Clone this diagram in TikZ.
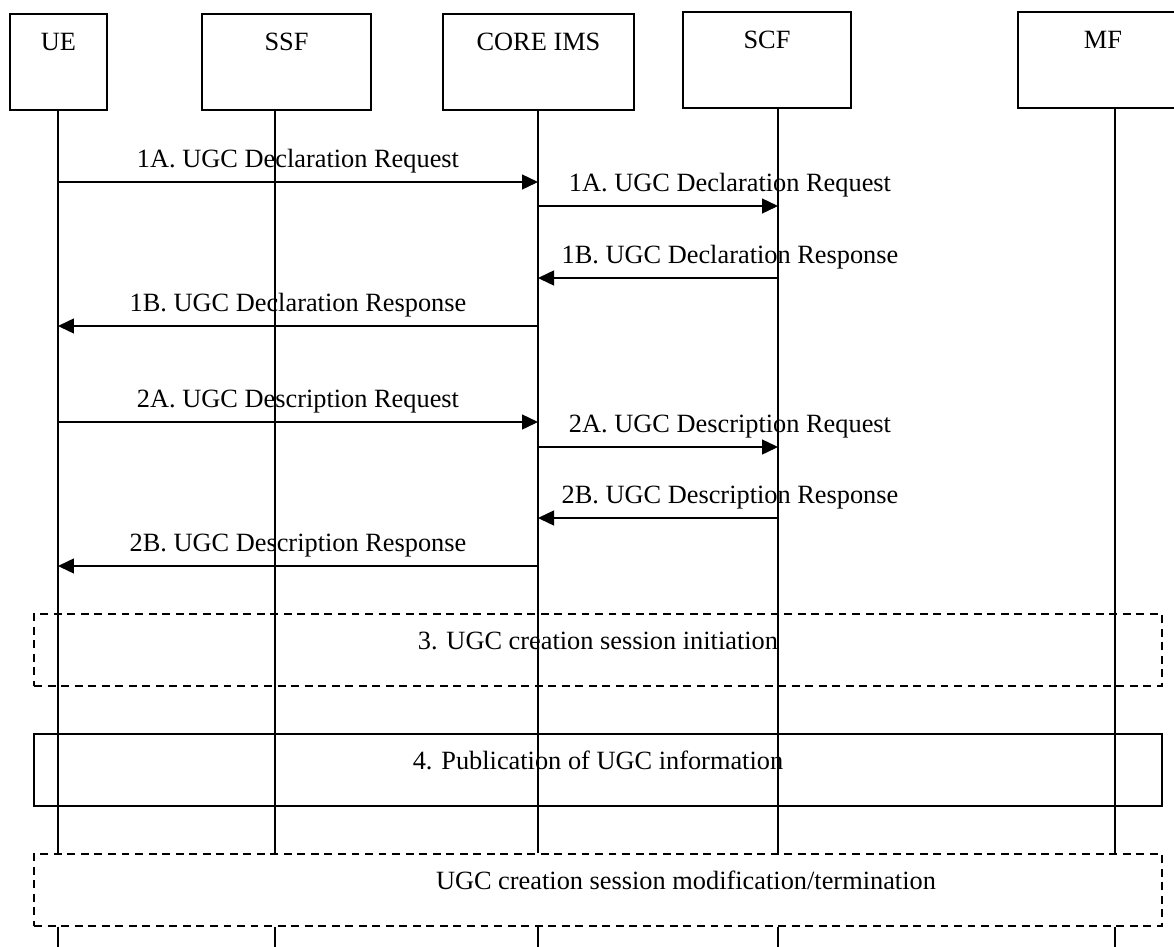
\documentclass[tikz,border=0pt]{standalone}
\usepackage{fontspec}
\setmainfont{Liberation Serif}
\usetikzlibrary{arrows.meta, positioning}

\begin{document}
\begin{tikzpicture}[x=0.02cm, y=-0.02cm, line width=0.8pt, font=\fontsize{15}{18}\selectfont]
\tikzset{entity/.style={draw, rectangle, inner sep=0pt, minimum height=1.92cm, text height=0.72cm, text depth=1.2cm},
  frame/.style={draw, rectangle, inner sep=0pt, minimum width=22.56cm, minimum height=1.44cm, text height=0.7cm, text depth=0.74cm},
  dashedframe/.style={frame, dash pattern=on 4.5pt off 3.2pt},
  msg/.style={-{Triangle[length=0.32cm, width=0.3cm]}},
  lbl/.style={anchor=base, yshift=0.3cm, inner sep=0pt}}
\useasboundingbox (0,0) rectangle (1174,947);
% entities
\node[entity, minimum width=1.94cm] (UE) at (58.5,62) {UE};
\node[entity, minimum width=3.38cm] (SSF) at (286.5,62) {SSF};
\node[entity, minimum width=3.82cm] (CORE) at (538.5,62) {CORE IMS};
\node[entity, minimum width=3.36cm] (SCF) at (767,60) {SCF};
\node[entity, minimum width=3.4cm] (MF) at (1103,60) {MF};
% procedures
\node[dashedframe] (init) at (598,650) {3. UGC creation session initiation};
\node[frame] (pub) at (598,770) {4. Publication of UGC information};
\node[dashedframe] (modif) at (598,890) {\hspace*{3.52cm}UGC creation session modification/termination};
% lifelines
\foreach \n/\x in {UE/58, SSF/275, CORE/538, SCF/778, MF/1115} {
  \coordinate (\n L) at (\x,947);
  \draw (\n.south -| \n L) -- (modif.north -| \n L);
  \draw (modif.south -| \n L) -- (\n L);
}
% messages
\draw[msg] (UEL |- 0,182) -- node[lbl]{1A. UGC Declaration Request} (COREL |- 0,182);
\draw[msg] (COREL |- 0,206) -- node[lbl, pos=0.8]{1A. UGC Declaration Request} (SCFL |- 0,206);
\draw[msg] (SCFL |- 0,278) -- node[lbl, pos=0.2]{1B. UGC Declaration Response} (COREL |- 0,278);
\draw[msg] (COREL |- 0,326) -- node[lbl]{1B. UGC Declaration Response} (UEL |- 0,326);
\draw[msg] (UEL |- 0,422) -- node[lbl]{2A. UGC Description Request} (COREL |- 0,422);
\draw[msg] (COREL |- 0,447) -- node[lbl, pos=0.8]{2A. UGC Description Request} (SCFL |- 0,447);
\draw[msg] (SCFL |- 0,518) -- node[lbl, pos=0.2]{2B. UGC Description Response} (COREL |- 0,518);
\draw[msg] (COREL |- 0,566) -- node[lbl]{2B. UGC Description Response} (UEL |- 0,566);
\end{tikzpicture}
\end{document}
